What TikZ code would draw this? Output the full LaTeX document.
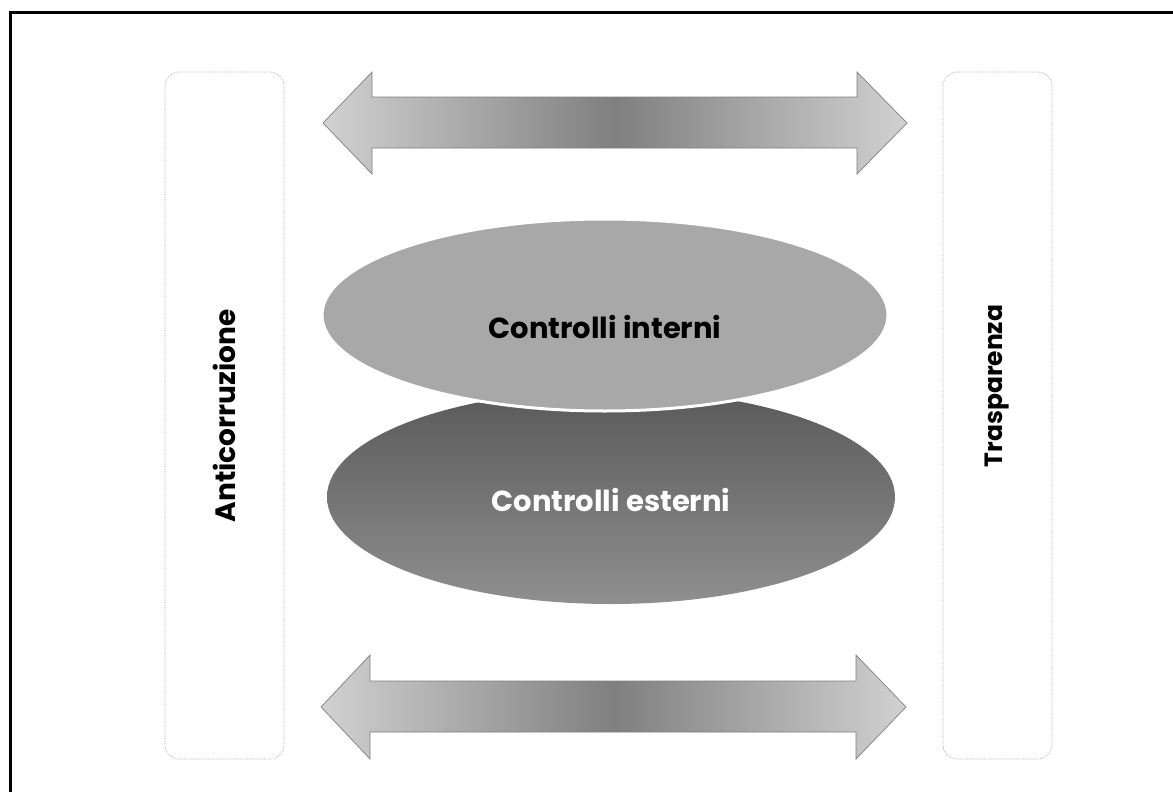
\documentclass[tikz,border=0pt]{standalone}
\usepackage{fontspec}
\setmainfont{Poppins}
\usetikzlibrary{shapes.geometric}
\begin{document}
\begin{tikzpicture}[x=1pt,y=-1pt,
  sidebox/.style={draw=black!35, densely dotted, line width=0.7pt, rounded corners=14pt, inner sep=0pt},
  sidelabel/.style={rotate=90, text=black},
  oval/.style={ellipse, inner sep=0pt},
  ovaltext/.style={font=\bfseries\fontsize{29}{34}\selectfont},
  bigarrow/.style={draw=black!50, line width=0.7pt, line join=miter, shading=axis,
     left color=black!18, right color=black!18, middle color=black!50}]
\fill[white] (0,0) rectangle (1173,792);
\useasboundingbox (0,0) rectangle (1173,792);
% frame (top and left only)
\draw[line width=3pt, line join=miter] (10,792) -- (10,13) -- (1173,13);
% side boxes
\node[sidebox, minimum width=119pt, minimum height=687pt] (lbox) at (224.5,415.5) {};
\node[sidebox, minimum width=109pt, minimum height=687pt] (rbox) at (997.5,415.5) {};
\node[sidelabel, font=\bfseries\fontsize{28}{32}\selectfont] (anti) at (lbox.center |- 0,416) {Anticorruzione};
\node[sidelabel, font=\bfseries\fontsize{25}{30}\selectfont] (tras) at (rbox.center |- 0,386) {Trasparenza};
% arrows
\path[bigarrow] (323,123) -- (372,72) -- (372,97) -- (857,97) -- (857,72) -- (907,123)
   -- (857,174) -- (857,148) -- (372,148) -- (372,174) -- cycle;
\path[bigarrow] (321,707) -- (370,655) -- (370,681) -- (856,681) -- (856,655) -- (906,707)
   -- (856,759) -- (856,732) -- (370,732) -- (370,759) -- cycle;
% ellipses
\node[oval, minimum width=568pt, minimum height=214pt,
      shading=axis, top color=black!65, bottom color=black!44] (ext) at (611,497) {};
\node[oval, minimum width=566pt, minimum height=192pt, fill=black!34, draw=white, line width=3pt] (int) at (605,315) {};
\node[ovaltext, text=white] (exttext) at (ext.center |- 0,500) {Controlli esterni};
\node[ovaltext, text=black] (inttext) at (int.center |- 0,327) {Controlli interni};
\end{tikzpicture}
\end{document}
